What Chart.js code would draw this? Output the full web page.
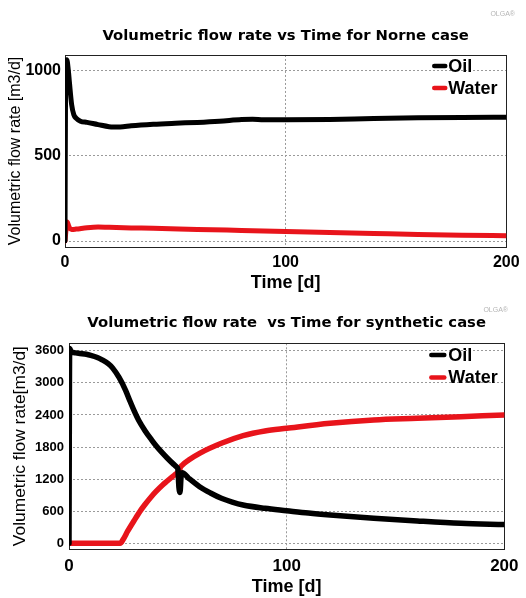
<!DOCTYPE html>
<html><head><meta charset="utf-8">
<script src="https://cdn.jsdelivr.net/npm/chart.js@4.4.1/dist/chart.umd.min.js"></script>
<style>
html,body{margin:0;padding:0;background:#fff;}
#wrap{position:relative;width:526px;height:598px;}
canvas{position:absolute;left:0;display:block;}
</style></head><body>
<div id="wrap">
<canvas id="c1" width="526" height="300" style="top:0"></canvas>
<canvas id="c2" width="526" height="298" style="top:300px"></canvas>
</div>
<script>
// ---------- data ----------
const xTicks = [0, 100, 200];
const norneYTicks = [0, 500, 1000];
const synYTicks = [0, 600, 1200, 1800, 2400, 3000, 3600];

const norneOilT = [0, 0.3, 0.8, 1.5, 2, 3, 4, 5, 7, 10, 15, 20, 25, 30, 40, 50, 60, 70, 80, 85, 90, 100, 120, 140, 160, 180, 200];
const norneOil  = [0, 1040, 1062, 1000, 930, 800, 740, 720, 702, 695, 682, 670, 668, 675, 684, 690, 695, 702, 712, 714, 710, 710, 712, 718, 722, 724, 725];
const norneWaterT = [0, 0.5, 1, 1.5, 2, 3, 5, 10, 15, 20, 30, 40, 60, 80, 100, 120, 140, 160, 180, 200];
const norneWater  = [0, 70, 112, 95, 78, 68, 70, 78, 82, 80, 77, 75, 68, 62, 56, 50, 44, 38, 34, 31];

const synOilT = [0, 0.3, 1, 3, 5, 8, 10, 13, 15, 18, 20, 23, 26, 28, 30, 32, 35, 38, 40, 43, 45, 48, 49.5, 50, 50.5, 51, 51.5, 52, 55, 60, 65, 70, 75, 80, 90, 100, 110, 120, 140, 160, 180, 200];
const synOil  = [0, 3640, 3580, 3560, 3550, 3535, 3515, 3475, 3435, 3360, 3280, 3100, 2860, 2660, 2470, 2300, 2100, 1930, 1825, 1685, 1600, 1480, 1425, 1390, 1050, 950, 1250, 1320, 1215, 1058, 940, 841, 770, 716, 654, 609, 565, 529, 467, 417, 374, 350];
const synWaterT = [0, 10, 20, 23.5, 25, 27, 30, 33, 35, 38, 40, 43, 45, 48, 50, 50.5, 51, 52, 55, 60, 70, 80, 90, 100, 120, 140, 160, 180, 200];
const synWater  = [0, 0, 0, 0, 80, 230, 430, 620, 730, 880, 970, 1090, 1160, 1260, 1320, 1290, 1400, 1460, 1557, 1682, 1869, 2012, 2099, 2149, 2243, 2305, 2336, 2367, 2398];

const seriesNames = ['Oil', 'Water'];
const seriesColors = ['#000000', '#e8141b'];

// ---------- helpers ----------
function pts(t, v) { return t.map((x, i) => ({x: x, y: v[i]})); }

const decoPlugin = {
  id: 'deco',
  beforeDatasetsDraw(chart, args, o) {
    const {ctx, chartArea: a} = chart;
    ctx.save();
    ctx.strokeStyle = '#222';
    ctx.lineWidth = 1;
    ctx.strokeRect(Math.round(a.left) + 0.5, Math.round(a.top) + 0.5, Math.round(a.right - a.left), Math.round(a.bottom - a.top));
    ctx.restore();
  },
  afterDraw(chart, args, o) {
    const {ctx, chartArea: a} = chart;
    ctx.save();
    chart.data.datasets.forEach((ds, i) => {
      const y = a.top + o.legTop + i * o.legGap;
      ctx.strokeStyle = ds.borderColor;
      ctx.lineWidth = o.legLW;
      ctx.lineCap = 'round';
      ctx.beginPath();
      ctx.moveTo(a.right - o.lineFrom, y);
      ctx.lineTo(a.right - o.lineTo, y);
      ctx.stroke();
      ctx.fillStyle = '#000';
      ctx.font = 'bold ' + o.legFont + 'px "Liberation Sans", Arial, sans-serif';
      ctx.textBaseline = 'middle';
      ctx.textAlign = 'left';
      ctx.fillText(ds.label, a.right - o.textX, y + 1);
    });
    ctx.fillStyle = '#b5b5b5';
    ctx.font = '7px "Liberation Sans", Arial, sans-serif';
    ctx.textAlign = 'right';
    ctx.textBaseline = 'middle';
    ctx.fillText('OLGA\u00AE', o.wmX, o.wmY);
    ctx.restore();
  }
};

function makeChart(id, g) {
  return new Chart(document.getElementById(id), {
    type: 'line',
    data: {
      datasets: [
        {label: seriesNames[0], data: g.oil, borderColor: seriesColors[0], borderWidth: g.lw, pointRadius: 0, cubicInterpolationMode: 'monotone', borderJoinStyle: 'round', borderCapStyle: 'round', fill: false},
        {label: seriesNames[1], data: g.water, borderColor: seriesColors[1], borderWidth: g.lw, pointRadius: 0, cubicInterpolationMode: 'monotone', borderJoinStyle: 'round', borderCapStyle: 'round', fill: false}
      ]
    },
    options: {
      responsive: false,
      animation: false,
      events: [],
      layout: {padding: {left: 0, right: g.padRight, top: 0, bottom: 0}},
      plugins: {
        legend: {display: false},
        tooltip: {enabled: false},
        title: {
          display: true, fullSize: false, text: g.title, color: '#000',
          font: {family: 'DejaVu Sans', weight: 'bold', size: 14.8},
          padding: {top: g.titleTop, bottom: g.titleBottom}
        },
        deco: g.deco
      },
      scales: {
        x: {
          type: 'linear', min: 0, max: 200,
          afterBuildTicks: s => { s.ticks = xTicks.map(v => ({value: v})); },
          afterFit: s => { s.height = g.xH; },
          ticks: {autoSkip: false, maxRotation: 0, color: '#000', padding: g.xTickPad,
                  font: {family: 'Liberation Sans', weight: 'bold', size: g.xTickFont},
                  callback: v => String(v)},
          grid: {color: '#9a9a9a', lineWidth: 1, drawTicks: false},
          border: {display: false, dash: [2, 2]},
          title: {display: true, text: 'Time [d]', color: '#000',
                  font: {family: 'Liberation Sans', weight: 'bold', size: 18},
                  padding: {top: 0, bottom: g.xTitlePad}}
        },
        y: {
          min: g.yMin, max: g.yMax,
          afterBuildTicks: s => { s.ticks = g.yTicks.map(v => ({value: v})); },
          afterFit: s => { s.width = g.yW; },
          ticks: {color: '#000', padding: g.yTickPad,
                  font: {family: 'Liberation Sans', weight: 'bold', size: g.yTickFont},
                  callback: v => String(v)},
          grid: {color: '#9a9a9a', lineWidth: 1, drawTicks: false},
          border: {display: false, dash: [2, 2]},
          title: {display: true, text: g.yTitle, color: '#000',
                  font: {family: 'Liberation Sans', size: g.yTitleFont},
                  padding: {top: g.yTitlePad, bottom: 0}}
        }
      }
    },
    plugins: [decoPlugin]
  });
}

makeChart('c1', {
  oil: pts(norneOilT, norneOil), water: pts(norneWaterT, norneWater), lw: 5,
  title: 'Volumetric flow rate vs Time for Norne case', titleTop: 27.1, titleBottom: 10.1,
  padRight: 17, xH: 53, xTickPad: 6.4, xTickFont: 16, xTitlePad: 6.2,
  yMin: -35, yMax: 1090, yTicks: norneYTicks, yW: 65, yTickPad: 4, yTickFont: 16,
  yTitle: 'Volumetric flow rate [m3/d]', yTitlePad: 6.4, yTitleFont: 16,
  deco: {legTop: 11, legGap: 22, legLW: 4.5, lineFrom: 72, lineTo: 61, textX: 58, legFont: 18, wmX: 515, wmY: 14}
});

makeChart('c2', {
  oil: pts(synOilT, synOil), water: pts(synWaterT, synWater), lw: 5.5,
  title: 'Volumetric flow rate  vs Time for synthetic case', titleTop: 13.8, titleBottom: 11.7,
  padRight: 19, xH: 49, xTickPad: 7.5, xTickFont: 17, xTitlePad: 0.5,
  yMin: -107, yMax: 3740, yTicks: synYTicks, yW: 69, yTickPad: 5, yTickFont: 13,
  yTitle: 'Volumetric flow rate[m3/d]', yTitlePad: 9.8, yTitleFont: 17.4,
  deco: {legTop: 11.7, legGap: 22.5, legLW: 4.5, lineFrom: 73, lineTo: 60, textX: 56, legFont: 18, wmX: 508, wmY: 10}
});
</script>
</body></html>
